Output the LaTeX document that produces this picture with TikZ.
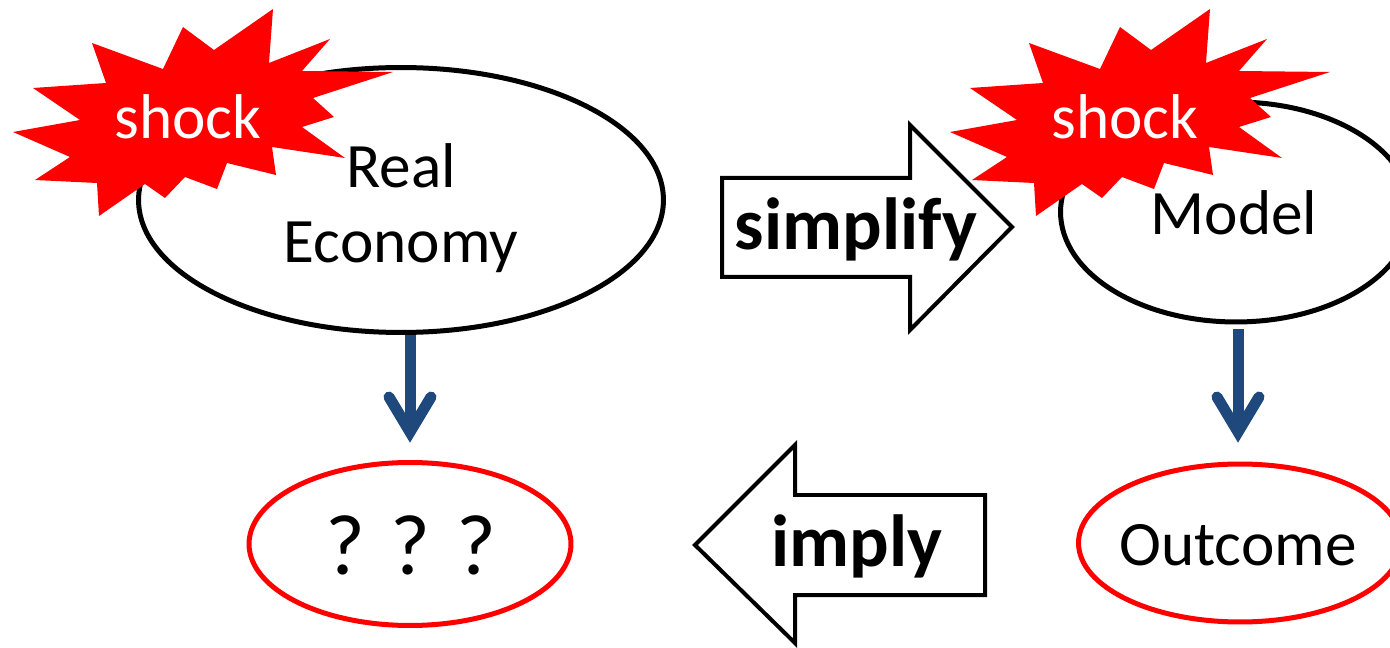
\documentclass[tikz,border=0pt]{standalone}
\usepackage{fontspec}
\setmainfont{Carlito}
\usetikzlibrary{shapes.geometric,calc}
\definecolor{arrowblue}{RGB}{31,73,125}
\definecolor{shockred}{RGB}{255,0,0}
\definecolor{ringred}{RGB}{255,0,0}
\begin{document}
\begin{tikzpicture}[x=0.02cm,y=-0.02cm,
  blackell/.style={ellipse, draw=black, line width=0.1cm, inner sep=0pt},
  redell/.style={ellipse, draw=ringred, line width=0.1cm, inner sep=0pt},
  txt/.style={font=\fontsize{36}{43}\selectfont, align=center, inner sep=0pt},
  bigtxt/.style={font=\fontsize{49}{58}\selectfont, inner sep=0pt},
  boldtxt/.style={font=\fontsize{42}{50}\selectfont\bfseries, inner sep=0pt},
  shocktxt/.style={font=\fontsize{36}{43}\selectfont, text=white, inner sep=0pt},
  blockarr/.style={draw=black, line width=0.08cm, fill=white, line join=miter},
  blueshaft/.style={draw=arrowblue, line width=0.22cm, line cap=butt},
  bluehead/.style={draw=arrowblue, line width=0.22cm, line cap=round, line join=miter},
  shockburst/.pic={
    \fill[shockred] (273,9) -- (269,63) -- (330,39) -- (302,71) -- (393,72)
      -- (313,98) -- (334,117) -- (302,127) -- (345,158) -- (272,147)
      -- (276,175) -- (227,163) -- (217,189) -- (185,177) -- (165,198)
      -- (145,184) -- (99,216) -- (97,183) -- (35,180) -- (70,157)
      -- (13,132) -- (80,120) -- (33,88) -- (106,83) -- (92,43)
      -- (163,69) -- (183,27) -- (214,50) -- cycle;
  }]
\useasboundingbox (0,0) rectangle (1390,648);
\clip (0,0) rectangle (1390,648);

% ellipses
\node[blackell, minimum width=10.5cm, minimum height=5.3cm] (re) at (401,200) {};
\node[blackell, minimum width=7.02cm, minimum height=4.4cm] (model) at (1236,212) {};
\node[redell, minimum width=6.44cm, minimum height=3.26cm] (qqq) at (410,544) {};
\node[redell, minimum width=6.46cm, minimum height=3.16cm] (out) at (1240,543) {};

% texts in ellipses
\node[txt] (retxt) at (401,208) {Real\\Economy};
\node[txt] (modeltxt) at (1234,213) {Model};
\node[bigtxt] (qqqtxt) at (411,545) {? ? ?};
\node[txt] (outtxt) at (1238,545) {Outcome};

% shock bursts
\pic at (0,0) {shockburst};
\pic at (937,0) {shockburst};
\node[shocktxt] (shock1) at (188,117) {shock};
\node[shocktxt] (shock2) at (1125,117) {shock};

% block arrows
\draw[blockarr] (722,178) -- (910,178) -- (910,125) -- (1012,227)
  -- (910,330) -- (910,277) -- (722,277) -- cycle;
\node[boldtxt] (simp) at (856,229) {simplify};
\draw[blockarr] (985,495) -- (795,495) -- (795,445) -- (695,545)
  -- (795,643) -- (795,595) -- (985,595) -- cycle;
\node[boldtxt] (imply) at (857,546) {imply};

% blue arrows
\coordinate (tipA) at (410,432);
\coordinate (tipB) at (1238,432);
\draw[blueshaft] (re.south -| tipA) -- (tipA);
\draw[bluehead] ($(tipA)+(-21,-35)$) -- (tipA) -- ($(tipA)+(21,-35)$);
\draw[blueshaft] ($(model.south -| tipB)+(0,5)$) -- (tipB);
\draw[bluehead] ($(tipB)+(-21,-35)$) -- (tipB) -- ($(tipB)+(21,-35)$);
\end{tikzpicture}
\end{document}
